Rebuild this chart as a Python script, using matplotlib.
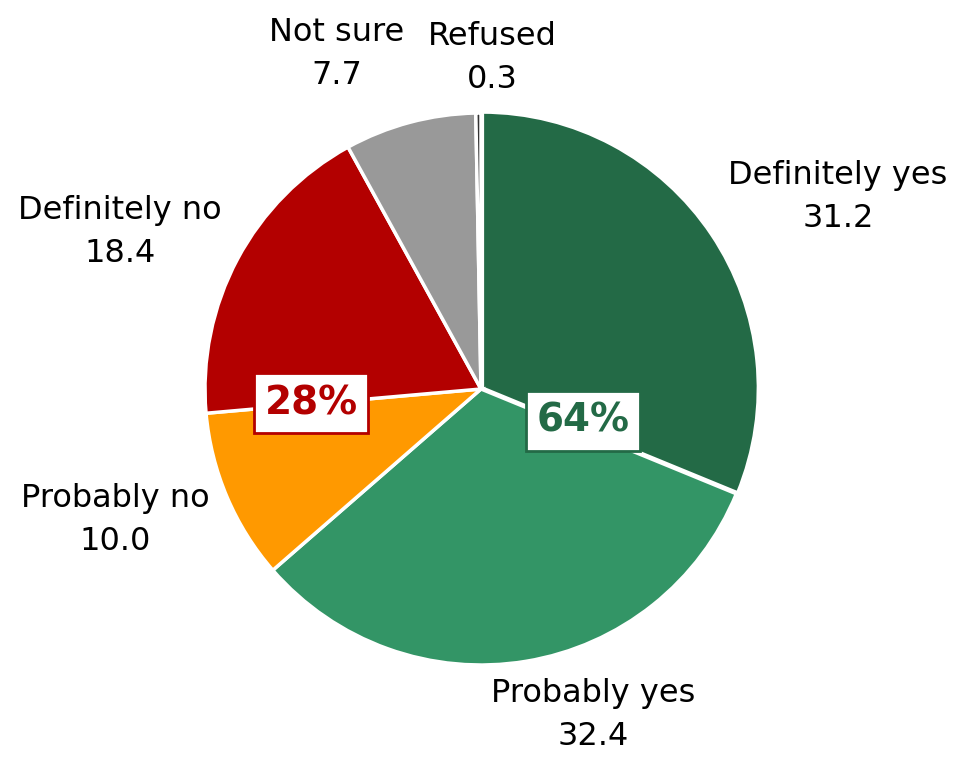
import matplotlib
matplotlib.use("Agg")
import matplotlib.pyplot as plt
import numpy as np

categories = ["Definitely yes", "Probably yes", "Probably no", "Definitely no", "Not sure", "Refused"]
values = [31.2, 32.4, 10.0, 18.4, 7.7, 0.3]
colors = ["#236A46", "#339566", "#FF9900", "#B30000", "#999999", "#333333"]

# label centres in pixels (x, y from top)
label_pos = [(838, 197), (593, 715), (115, 520), (120, 232), (337, 54), (492, 58)]

W, H = 957, 760
fig = plt.figure(figsize=(W / 100, H / 100), dpi=100)
cx, cy, r = 481, 389, 276
ax = fig.add_axes([(cx - r) / W, (H - cy - r) / H, 2 * r / W, 2 * r / H])

ax.pie(values, colors=colors, startangle=90, counterclock=False,
       explode=[0.006, 0, 0, 0, 0, 0],
       wedgeprops=dict(edgecolor="white", linewidth=2.5))
ax.set_xlim(-1, 1)
ax.set_ylim(-1, 1)
ax.set_aspect("equal")

for cat, v, (px, py) in zip(categories, values, label_pos):
    fig.text(px / W, 1 - py / H, f"{cat}\n{v:.1f}", ha="center", va="center",
             fontsize=23, linespacing=1.5, color="black", family="DejaVu Sans")

# summary boxes
yes_total = round(values[0] + values[1])
no_total = round(values[2] + values[3])
fig.text(583 / W, 1 - 421 / H, f"{yes_total}%", ha="center", va="center",
         fontsize=28, fontweight="bold", color="#236A46", family="DejaVu Sans",
         bbox=dict(boxstyle="square,pad=0.28", facecolor="white", edgecolor="#236A46", linewidth=2))
fig.text(311 / W, 1 - 403 / H, f"{no_total}%", ha="center", va="center",
         fontsize=28, fontweight="bold", color="#B30000", family="DejaVu Sans",
         bbox=dict(boxstyle="square,pad=0.28", facecolor="white", edgecolor="#B30000", linewidth=2))

fig.savefig("out.png", dpi=100)
